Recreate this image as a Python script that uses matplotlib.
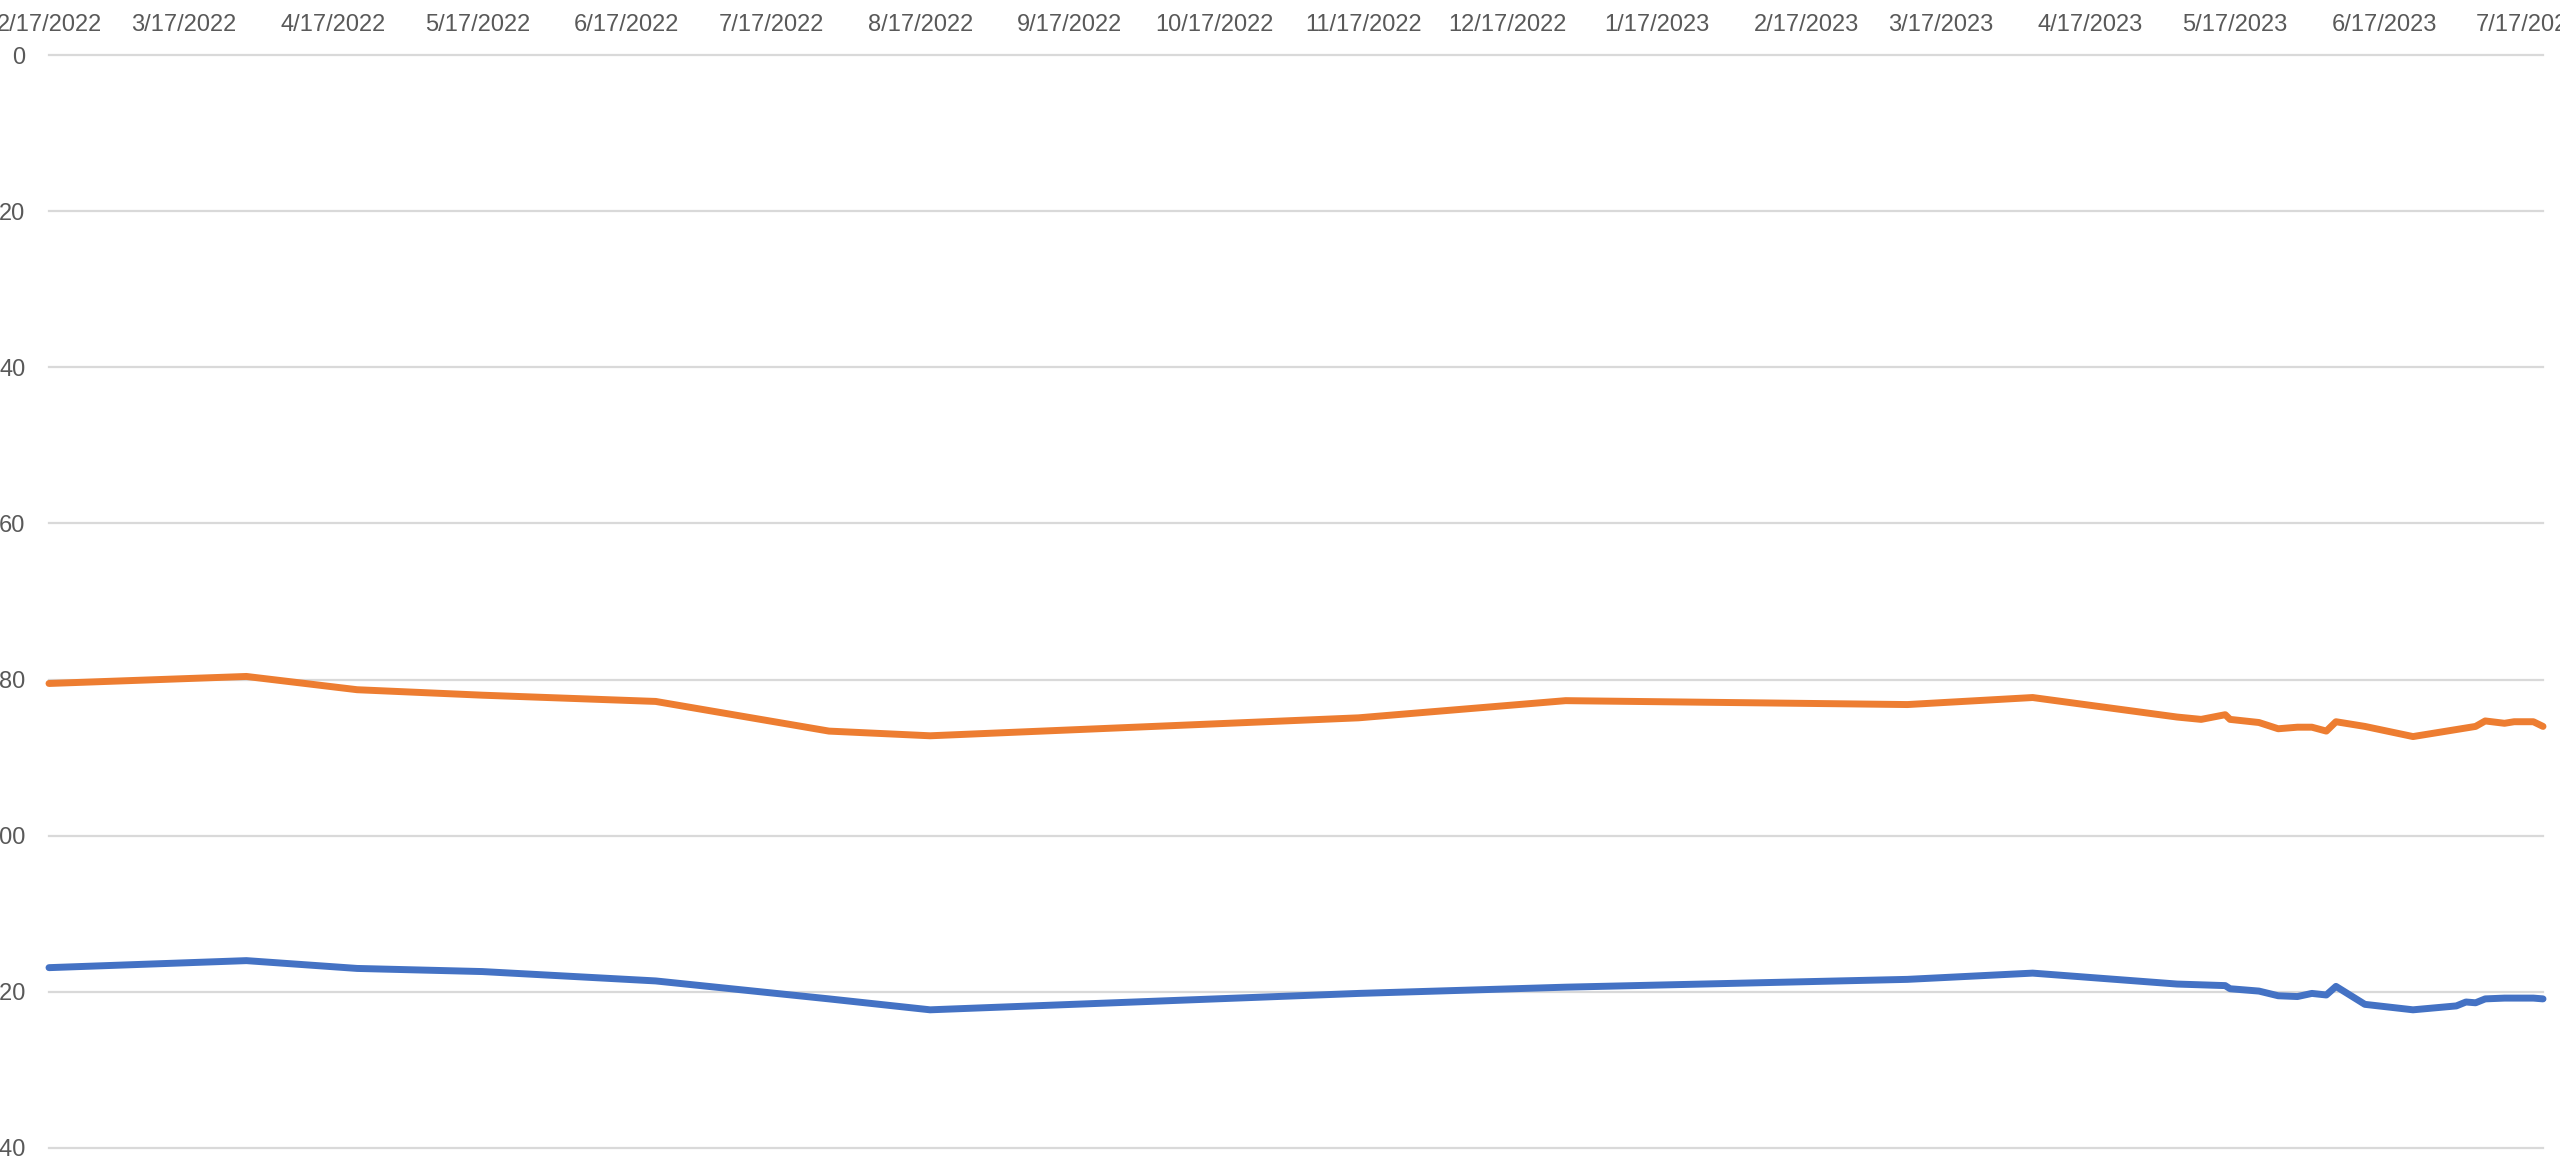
import numpy as np
import pandas as pd
import matplotlib
matplotlib.use("Agg")
import matplotlib.pyplot as plt
import matplotlib.dates as mdates

# data (y axis is reversed, 0 at top)
dates = ['2022-02-17', '2022-03-30', '2022-04-22', '2022-05-18', '2022-06-23',
         '2022-07-29', '2022-08-19', '2022-11-16', '2022-12-29', '2023-03-10',
         '2023-04-05', '2023-05-05', '2023-05-10', '2023-05-15', '2023-05-16',
         '2023-05-22', '2023-05-26', '2023-05-30', '2023-06-02', '2023-06-05',
         '2023-06-07', '2023-06-13', '2023-06-23', '2023-07-02', '2023-07-04',
         '2023-07-06', '2023-07-08', '2023-07-12', '2023-07-14', '2023-07-18',
         '2023-07-20']

orange_vals = [80.5, 79.6, 81.3, 82.0, 82.8, 86.6, 87.2, 84.9, 82.7, 83.2,
               82.3, 84.8, 85.1, 84.5, 85.1, 85.5, 86.3, 86.1, 86.1, 86.6,
               85.4, 86.0, 87.3, 86.4, 86.2, 86.0, 85.3, 85.6, 85.4, 85.4,
               86.0]

blue_vals = [116.9, 116.0, 117.0, 117.4, 118.6, 120.9, 122.3, 120.2, 119.4, 118.4,
             117.6, 119.0, 119.1, 119.2, 119.6, 119.9, 120.5, 120.6, 120.2, 120.4,
             119.3, 121.6, 122.3, 121.8, 121.3, 121.4, 120.9, 120.8, 120.8, 120.8,
             120.9]

y_ticks = [0, 20, 40, 60, 80, 100, 120, 140]
tick_start = '2022-02-17'
tick_end = '2023-07-17'

x = pd.to_datetime(dates)
tick_dates = pd.date_range(tick_start, tick_end, freq=pd.DateOffset(months=1))

plt.rcParams['font.family'] = ['Liberation Sans', 'DejaVu Sans']

fig = plt.figure(figsize=(25.6, 11.6), dpi=100)
ax = fig.add_axes([49 / 2560, 1 - 1148 / 1160, (2543 - 49) / 2560, (1148 - 55) / 1160])

ax.plot(x, blue_vals, color='#4472C4', lw=5, solid_capstyle='round',
        solid_joinstyle='round', clip_on=False, zorder=3)
ax.plot(x, orange_vals, color='#ED7D31', lw=5, solid_capstyle='round',
        solid_joinstyle='round', clip_on=False, zorder=3)

ax.set_ylim(140, 0)
ax.set_yticks(y_ticks)
ax.set_xlim(x[0], x[-1])
ax.set_xticks(tick_dates)
ax.set_xticklabels([f"{d.month}/{d.day}/{d.year}" for d in tick_dates])

ax.xaxis.tick_top()
ax.tick_params(axis='x', length=0, pad=13.5, labelsize=17, colors='#595959')
ax.tick_params(axis='y', length=0, pad=17, labelsize=17, colors='#595959')

ax.grid(axis='y', color='#D9D9D9', lw=1.6)
ax.grid(axis='x', visible=False)
for gl in ax.get_ygridlines():
    gl.set_clip_on(False)
for s in ax.spines.values():
    s.set_visible(False)

fig.savefig('out.png', dpi=100, facecolor='white')
